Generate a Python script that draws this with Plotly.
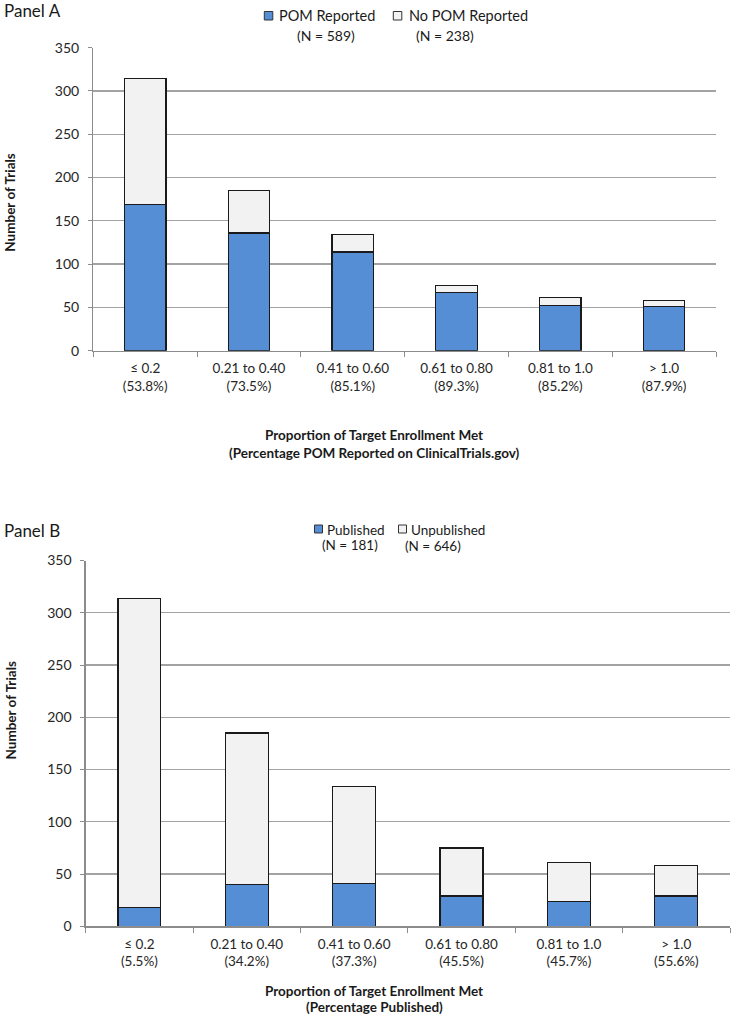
import plotly.graph_objects as go

categories = ["≤ 0.2", "0.21 to 0.40", "0.41 to 0.60", "0.61 to 0.80", "0.81 to 1.0", "> 1.0"]
pct_pom = ["(53.8%)", "(73.5%)", "(85.1%)", "(89.3%)", "(85.2%)", "(87.9%)"]
pct_pub = ["(5.5%)", "(34.2%)", "(37.3%)", "(45.5%)", "(45.7%)", "(55.6%)"]
pom_reported = [169, 136, 114, 67, 52, 51]
no_pom_reported = [145, 49, 20, 8, 9, 7]
published = [18, 40, 41, 29, 24, 29]
unpublished = [296, 145, 93, 46, 37, 29]
y_ticks = [0, 50, 100, 150, 200, 250, 300, 350]
legend_a = ["POM Reported", "No POM Reported"]
legend_a_n = ["(N = 589)", "(N = 238)"]
legend_b = ["Published", "Unpublished"]
legend_b_n = ["(N = 181)", "(N = 646)"]

BLUE = "#558ED5"
GREY = "#F2F2F2"
EDGE = "#1a1a1a"
FONT = "Lato"
W, H = 733, 1018


def px(x):
    return x / W


def py(y):
    return 1 - y / H


fig = go.Figure()
for vals, name, col, xa, ya in [
    (pom_reported, legend_a[0], BLUE, "x", "y"),
    (no_pom_reported, legend_a[1], GREY, "x", "y"),
    (published, legend_b[0], BLUE, "x2", "y2"),
    (unpublished, legend_b[1], GREY, "x2", "y2"),
]:
    fig.add_trace(go.Bar(x=categories, y=vals, name=name, width=0.4,
                         marker=dict(color=col, line=dict(color=EDGE, width=1.2)),
                         xaxis=xa, yaxis=ya, showlegend=False))

xcommon = dict(type="category", showgrid=False, showline=True, linecolor="#8c8c8c", linewidth=1.3,
               ticks="outside", tickson="boundaries", ticklen=5, tickcolor="#8c8c8c",
               ticklabelstandoff=5, automargin=False,
               tickfont=dict(family=FONT, size=13.5, color="#262626"), fixedrange=True)
ycommon = dict(range=[0, 350], tickvals=y_ticks, showgrid=True, gridcolor="#a3a3a3", gridwidth=1.3,
               showline=True, linecolor="#8c8c8c", linewidth=1.3, ticks="outside", ticklen=4,
               tickcolor="#8c8c8c", ticklabelstandoff=6, automargin=False,
               tickfont=dict(family=FONT, size=14, color="#262626"), zeroline=False, fixedrange=True)

fig.update_layout(
    width=W, height=H, margin=dict(l=0, r=0, t=0, b=0, pad=0, autoexpand=False),
    paper_bgcolor="white", plot_bgcolor="white", barmode="stack", showlegend=False,
    font=dict(family=FONT, color="#262626"),
    xaxis=dict(xcommon, domain=[px(93.3), px(716)], anchor="y",
               tickvals=categories, ticktext=[f"{c}<br>{p}" for c, p in zip(categories, pct_pom)]),
    yaxis=dict(ycommon, domain=[py(350.7), py(47.7)], anchor="x"),
    xaxis2=dict(xcommon, domain=[px(85.7), px(730)], anchor="y2",
                tickvals=categories, ticktext=[f"{c}<br>{p}" for c, p in zip(categories, pct_pub)]),
    yaxis2=dict(ycommon, domain=[py(926.3), py(560.5)], anchor="x2"),
)

ann = []
shapes = []


def text(x, y, s, size=14, bold=False, xanchor="center"):
    ann.append(dict(x=px(x), y=py(y), xref="paper", yref="paper", text=(f"<b>{s}</b>" if bold else s),
                    showarrow=False, xanchor=xanchor, yanchor="middle",
                    font=dict(family=FONT, size=size, color="#1a1a1a")))


def square(x0, y0, size, color):
    shapes.append(dict(type="rect", xref="paper", yref="paper", x0=px(x0), x1=px(x0 + size),
                       y0=py(y0 + size), y1=py(y0), fillcolor=color, line=dict(color="#333333", width=1)))


text(2, 11, "Panel A", size=17, xanchor="left")
text(2, 530, "Panel B", size=17, xanchor="left")

# Panel A legend
square(264.3, 11.5, 8.5, BLUE)
text(276.5, 15.7, legend_a[0], size=14.5, xanchor="left")
square(393.3, 11.5, 8.5, GREY)
text(406.5, 15.7, legend_a[1], size=14.5, xanchor="left")
text(325.7, 35, legend_a_n[0], size=14)
text(445, 35, legend_a_n[1], size=14)

# Panel B legend
square(314.5, 525, 8, BLUE)
text(325, 529.5, legend_b[0], size=13.5, xanchor="left")
square(398.5, 525, 8, GREY)
text(408.5, 529.5, legend_b[1], size=13.5, xanchor="left")
text(350, 545, legend_b_n[0], size=13.5)
text(433, 546, legend_b_n[1], size=13.5)

text(374, 435, "Proportion of Target Enrollment Met", size=13.5, bold=True)
text(374, 453, "(Percentage POM Reported on ClinicalTrials.gov)", size=13.5, bold=True)
text(374, 991, "Proportion of Target Enrollment Met", size=13.5, bold=True)
text(374, 1007, "(Percentage Published)", size=13.5, bold=True)
for yc in (202.7, 710.5):
    ann.append(dict(x=px(10), y=py(yc), xref="paper", yref="paper", text="<b>Number of Trials</b>",
                    showarrow=False, textangle=-90, xanchor="center", yanchor="middle",
                    font=dict(family=FONT, size=13.5, color="#1a1a1a")))
fig.update_layout(annotations=ann, shapes=shapes)

fig.write_html("out.html", config={"displayModeBar": False, "staticPlot": True},
               post_script="document.body.style.margin='0px';document.body.style.overflow='hidden';")
